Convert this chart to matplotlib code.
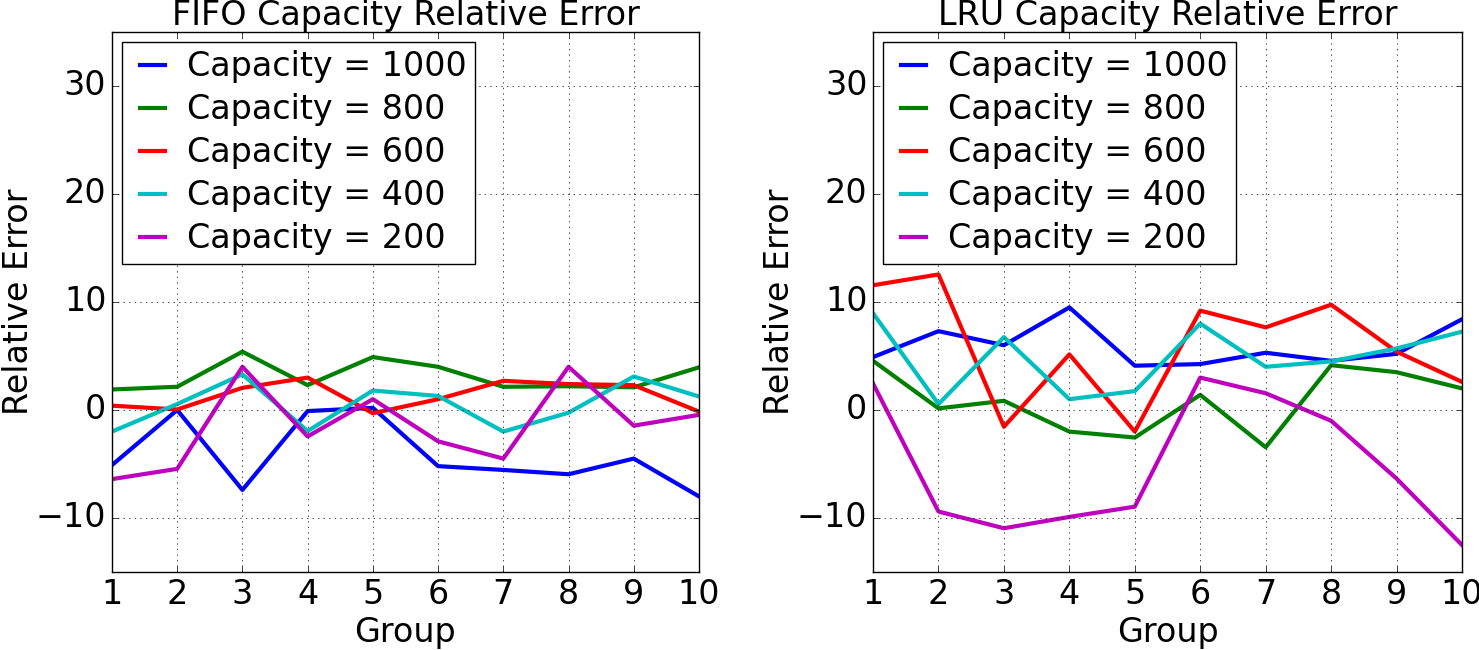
import matplotlib
matplotlib.use('Agg')
import matplotlib.pyplot as plt

plt.style.use('classic')
plt.rcParams['font.family'] = ['DejaVu Sans']
plt.rcParams['figure.facecolor'] = 'white'
plt.rcParams['savefig.facecolor'] = 'white'

groups = [1, 2, 3, 4, 5, 6, 7, 8, 9, 10]
capacities = [1000, 800, 600, 400, 200]
colors = ['b', 'g', 'r', 'c', 'm']

# FIFO relative error per capacity
fifo_1000 = [-5.1, 0.0, -7.4, -0.1, 0.2, -5.2, -5.55, -5.95, -4.5, -8.0]
fifo_800 = [1.9, 2.15, 5.4, 2.3, 4.9, 4.0, 2.15, 2.2, 2.1, 3.95]
fifo_600 = [0.4, 0.05, 2.05, 3.0, -0.3, 1.0, 2.7, 2.4, 2.3, -0.15]
fifo_400 = [-2.0, 0.55, 3.3, -1.95, 1.8, 1.3, -2.0, -0.25, 3.1, 1.25]
fifo_200 = [-6.4, -5.45, 4.0, -2.45, 1.0, -2.9, -4.5, 4.0, -1.45, -0.45]

# LRU relative error per capacity
lru_1000 = [4.9, 7.3, 6.0, 9.5, 4.1, 4.25, 5.3, 4.55, 5.2, 8.4]
lru_800 = [4.55, 0.15, 0.85, -2.0, -2.55, 1.4, -3.45, 4.15, 3.5, 2.0]
lru_600 = [11.55, 12.55, -1.55, 5.15, -2.0, 9.2, 7.65, 9.75, 5.4, 2.6]
lru_400 = [8.95, 0.55, 6.75, 1.0, 1.75, 8.0, 4.0, 4.5, 5.7, 7.25]
lru_200 = [2.45, -9.4, -10.95, -9.9, -8.95, 3.0, 1.55, -1.0, -6.35, -12.5]

fifo = [fifo_1000, fifo_800, fifo_600, fifo_400, fifo_200]
lru = [lru_1000, lru_800, lru_600, lru_400, lru_200]

fig = plt.figure(figsize=(14.79, 6.5), dpi=100)
ax1 = fig.add_axes([0.0757, 0.12, 0.3969, 0.8308])
ax2 = fig.add_axes([0.5903, 0.12, 0.3982, 0.8308])

fs = 24
for ax, data, title in [(ax1, fifo, 'FIFO Capacity Relative Error'),
                        (ax2, lru, 'LRU Capacity Relative Error')]:
    for vals, cap, c in zip(data, capacities, colors):
        ax.plot(groups, vals, color=c, linewidth=3, label='Capacity = %d' % cap)
    ax.set_xlim(1, 10)
    ax.set_ylim(-15, 35)
    ax.set_xticks(groups)
    ax.set_yticks([-10, 0, 10, 20, 30])
    ax.grid(True)
    ax.tick_params(labelsize=fs)
    ax.set_xlabel('Group', fontsize=fs, labelpad=4)
    ax.set_ylabel('Relative Error', fontsize=fs, labelpad=1)
    ax.set_title(title, fontsize=fs, y=1.0)
    ax.legend(loc='upper left', fontsize=fs, handlelength=1.35,
              borderpad=0.25, labelspacing=0.3, handletextpad=0.35,
              borderaxespad=0.3)

fig.savefig('out.png', dpi=100)
